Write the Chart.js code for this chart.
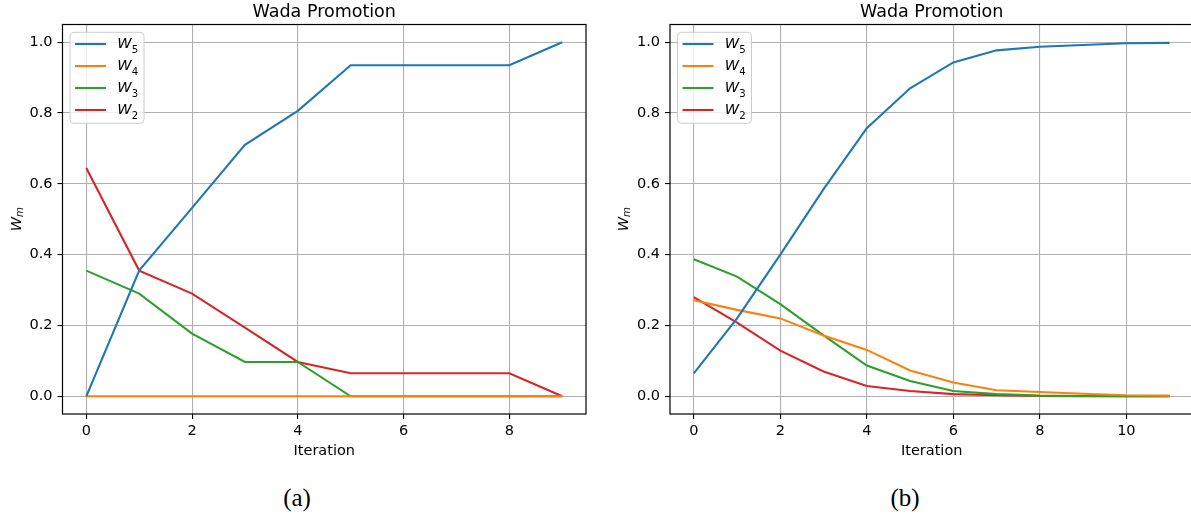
<!DOCTYPE html>
<html>
<head>
<meta charset="utf-8">
<script src="https://cdn.jsdelivr.net/npm/chart.js@4.4.0/dist/chart.umd.min.js"></script>
<style>
  html, body { margin: 0; padding: 0; background: #fff; overflow: hidden; width: 1191px; height: 517px; }
  .wrap { position: absolute; top: 0; width: 600px; height: 470px; }
  .caption { position: absolute; top: 483px; width: 100px; height: 30px; line-height: 30px; text-align: center;
             font-family: "Liberation Serif", serif; font-size: 25px; color: #000; }
</style>
</head>
<body>
<div class="wrap" style="left:0"><canvas id="chartA"></canvas></div>
<div class="wrap" style="left:600px"><canvas id="chartB"></canvas></div>
<div class="caption" style="left:247px">(a)</div>
<div class="caption" style="left:855px">(b)</div>
<script>
// --- Data (a) ---
const iterationsA = [0, 1, 2, 3, 4, 5, 6, 7, 8, 9];
const w5A = [0.0, 0.355, 0.532, 0.71, 0.806, 0.935, 0.935, 0.935, 0.935, 1.0];
const w4A = [0, 0, 0, 0, 0, 0, 0, 0, 0, 0];
const w3A = [0.355, 0.29, 0.177, 0.097, 0.097, 0, 0, 0, 0, 0];
const w2A = [0.645, 0.355, 0.29, 0.194, 0.097, 0.065, 0.065, 0.065, 0.065, 0];

// --- Data (b) ---
const iterationsB = [0, 1, 2, 3, 4, 5, 6, 7, 8, 9, 10, 11];
const w5B = [0.065, 0.22, 0.40, 0.585, 0.757, 0.870, 0.943, 0.977, 0.987, 0.992, 0.997, 0.998];
const w4B = [0.271, 0.244, 0.22, 0.172, 0.131, 0.073, 0.039, 0.017, 0.012, 0.007, 0.003, 0.002];
const w3B = [0.387, 0.338, 0.26, 0.172, 0.087, 0.043, 0.015, 0.006, 0.002, 0.001, 0, 0];
const w2B = [0.28, 0.208, 0.129, 0.07, 0.029, 0.015, 0.006, 0.003, 0.001, 0, 0, 0];

const seriesLabels = ['W_5', 'W_4', 'W_3', 'W_2'];
const seriesColors = ['#1f77b4', '#ff7f0e', '#2ca02c', '#d62728'];
const yTicks = [0, 0.2, 0.4, 0.6, 0.8, 1.0];
const xTicksA = [0, 2, 4, 6, 8];
const xTicksB = [0, 2, 4, 6, 8, 10];
const titleText = 'Wada Promotion';
const xTitle = 'Iteration';
const yTitle = 'W_m';

const FONT = '"DejaVu Sans", sans-serif';

// W_5 style text: italic base, smaller lowered subscript
function drawMath(ctx, label, x, y, size, centered) {
  const [base, sub] = label.split('_');
  const isDigit = /^[0-9]+$/.test(sub);
  const subSize = size * 0.7;
  const shift = isDigit ? size * 0.33 : size * 0.17;
  ctx.font = `italic ${size}px ${FONT}`;
  const wBase = ctx.measureText(base).width;
  ctx.font = `${isDigit ? '' : 'italic '}${subSize}px ${FONT}`;
  const wSub = ctx.measureText(sub).width;
  let x0 = centered ? x - (wBase + wSub) / 2 : x;
  ctx.textAlign = 'left';
  ctx.textBaseline = 'alphabetic';
  ctx.fillStyle = '#000';
  ctx.font = `italic ${size}px ${FONT}`;
  ctx.fillText(base, x0, y);
  ctx.font = `${isDigit ? '' : 'italic '}${subSize}px ${FONT}`;
  ctx.fillText(sub, x0 + wBase, y + shift);
}

// frame, legend inside the axes and the y label
const axesDecor = {
  id: 'axesDecor',
  afterDatasetsDraw(chart, args, opts) {
    const { ctx, chartArea: a } = chart;
    ctx.save();
    ctx.strokeStyle = '#000';
    ctx.lineWidth = 1.2;
    ctx.strokeRect(a.left, a.top, a.right - a.left, a.bottom - a.top);

    const bx = a.left + 7.5, by = a.top + 7.8, bw = 74, bh = 91;
    ctx.beginPath();
    ctx.roundRect(bx, by, bw, bh, 4);
    ctx.fillStyle = 'rgba(255,255,255,0.8)';
    ctx.fill();
    ctx.strokeStyle = '#cccccc';
    ctx.lineWidth = 1;
    ctx.stroke();
    chart.data.datasets.forEach((ds, i) => {
      const y = by + 11.7 + i * 22;
      ctx.strokeStyle = ds.borderColor;
      ctx.lineWidth = 2.1;
      ctx.beginPath();
      ctx.moveTo(bx + 5, y);
      ctx.lineTo(bx + 36, y);
      ctx.stroke();
      drawMath(ctx, ds.label, bx + 47.3, y + 3.9, 14.5, false);
    });

    ctx.translate(a.left - opts.yTitleOffset, (a.top + a.bottom) / 2);
    ctx.rotate(-Math.PI / 2);
    drawMath(ctx, yTitle, 0, 0, 14.5, true);
    ctx.restore();
  }
};

function makeChart(id, iterations, series, xTicks, xMin, xMax, yWidth, padRight, yTitleOffset) {
  const datasets = series.map((vals, i) => ({
    label: seriesLabels[i],
    data: iterations.map((it, k) => ({ x: it, y: vals[k] })),
    borderColor: seriesColors[i],
    backgroundColor: seriesColors[i],
    borderWidth: 2.1,
    pointRadius: 0,
    tension: 0,
    fill: false
  }));
  return new Chart(document.getElementById(id), {
    type: 'line',
    data: { datasets },
    plugins: [axesDecor],
    options: {
      responsive: true,
      maintainAspectRatio: false,
      animation: false,
      layout: { padding: { left: 0, right: padRight, top: 0, bottom: 0 } },
      scales: {
        x: {
          type: 'linear',
          min: xMin,
          max: xMax,
          afterBuildTicks: s => { s.ticks = xTicks.map(v => ({ value: v })); },
          afterFit: s => { s.height = 56; },
          ticks: { color: '#000', font: { family: FONT, size: 14.5 }, padding: 4, maxRotation: 0,
                   callback: v => String(v) },
          grid: { color: '#b0b0b0', lineWidth: 1.1, tickLength: 5, tickColor: '#000', tickWidth: 1.1 },
          border: { display: false },
          title: { display: true, text: xTitle, color: '#000', font: { family: FONT, size: 14.5 },
                   padding: { top: 0, bottom: 10.3 } }
        },
        y: {
          min: -0.05,
          max: 1.05,
          afterBuildTicks: s => { s.ticks = yTicks.map(v => ({ value: v })); },
          afterFit: s => { s.width = yWidth; },
          ticks: { color: '#000', font: { family: FONT, size: 14.5 }, padding: 5,
                   callback: v => v.toFixed(1) },
          grid: { color: '#b0b0b0', lineWidth: 1.1, tickLength: 5, tickColor: '#000', tickWidth: 1.1 },
          border: { display: false }
        }
      },
      plugins: {
        legend: { display: false },
        tooltip: { enabled: false },
        title: { display: true, text: titleText, fullSize: false, color: '#000',
                 font: { family: FONT, size: 17.5, weight: 'normal' },
                 padding: { top: 1.5, bottom: 2 } },
        axesDecor: { yTitleOffset: yTitleOffset }
      }
    }
  });
}

makeChart('chartA', iterationsA, [w5A, w4A, w3A, w2A], xTicksA, -0.45, 9.45, 62.5, 14, 41.8);
makeChart('chartB', iterationsB, [w5B, w4B, w3B, w2B], xTicksB, -0.55, 11.55, 70, 6.6, 42.5);
</script>
</body>
</html>
